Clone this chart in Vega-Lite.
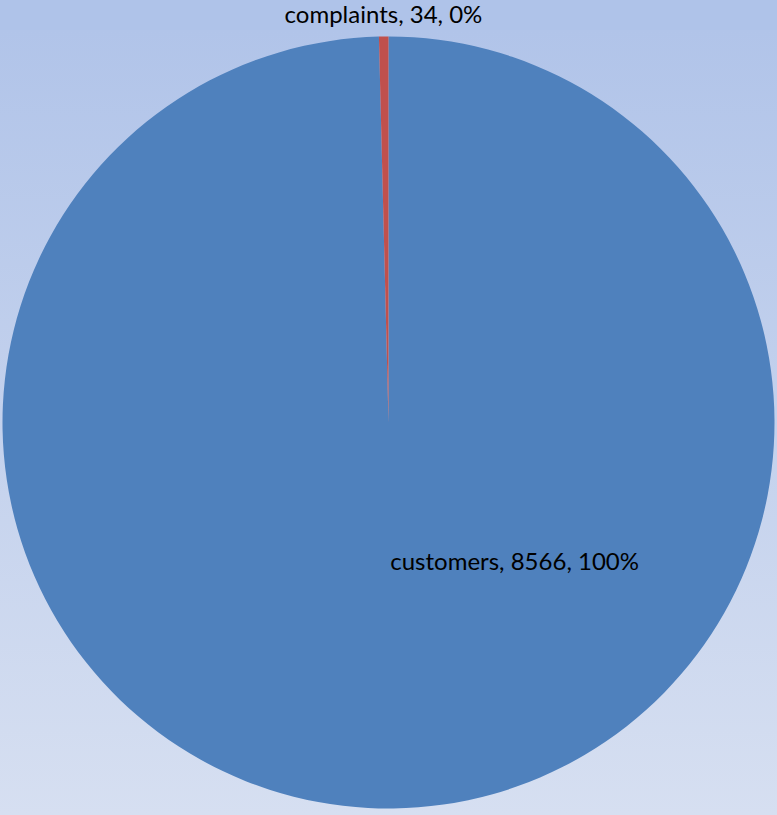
{
  "$schema": "https://vega.github.io/schema/vega-lite/v6.json",
  "width": 777,
  "height": 785,
  "autosize": {"type": "none"},
  "padding": {"top": 30, "left": 0, "right": 0, "bottom": 0},
  "background": "#AFC3E9",
  "config": {"view": {"stroke": null}},
  "data": {
    "values": [
      {"category": "customers", "count": 8566, "label": "customers, 8566, 100%"},
      {"category": "complaints", "count": 34, "label": "complaints, 34, 0%"}
    ]
  },
  "layer": [
    {
      "mark": {
        "type": "rect",
        "color": {"gradient": "linear", "x1": 0, "y1": 0, "x2": 0, "y2": 1, "stops": [{"offset": 0, "color": "#B1C4E9"}, {"offset": 1, "color": "#D6DFF1"}]}
      },
      "encoding": {
        "x": {"value": 0},
        "x2": {"value": "width"},
        "y": {"value": 0},
        "y2": {"value": "height"}
      }
    },
    {
      "mark": {"type": "arc", "outerRadius": 386},
      "encoding": {
        "theta": {"field": "count", "type": "quantitative", "stack": true},
        "order": {"field": "category", "sort": "descending"},
        "color": {"field": "category", "type": "nominal", "scale": {"domain": ["customers", "complaints"], "range": ["#4F81BD", "#C0504D"]}, "legend": null}
      }
    },
    {
      "mark": {"type": "text", "align": "left", "baseline": "middle", "font": "Lato", "fontSize": 24, "color": "#000000"},
      "encoding": {
        "theta": {"field": "count", "type": "quantitative", "stack": true},
        "order": {"field": "category", "sort": "descending"},
        "radius": {"value": 141},
        "text": {"condition": {"test": "datum.category === 'customers'", "field": "label"}, "value": ""}
      }
    },
    {
      "mark": {"type": "text", "align": "center", "baseline": "middle", "font": "Lato", "fontSize": 24, "color": "#000000"},
      "encoding": {
        "theta": {"field": "count", "type": "quantitative", "stack": true},
        "order": {"field": "category", "sort": "descending"},
        "radius": {"value": 407},
        "text": {"condition": {"test": "datum.category === 'complaints'", "field": "label"}, "value": ""}
      }
    }
  ]
}
